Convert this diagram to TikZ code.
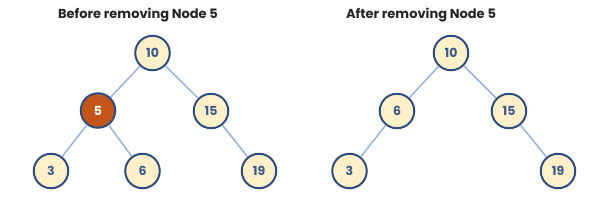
\documentclass[tikz,border=0pt]{standalone}
\usepackage{fontspec}
\setmainfont{Poppins}
\definecolor{nodefill}{HTML}{FFF0C9}
\definecolor{nodeline}{HTML}{2F4C80}
\definecolor{nodetext}{HTML}{3A5A8C}
\definecolor{edgecol}{HTML}{9AB3DE}
\definecolor{redfill}{HTML}{C4561A}
\begin{document}
\begin{tikzpicture}[x=1pt,y=-1pt,
  tnode/.style={circle,draw=nodeline,line width=2pt,fill=nodefill,minimum size=34.5pt,inner sep=0pt,font=\fontsize{12.5}{14}\selectfont\bfseries,text=nodetext},
  hnode/.style={tnode,fill=redfill,text=white},
  edge/.style={draw=edgecol,line width=1.5pt},
  title/.style={font=\fontsize{13}{15}\selectfont\bfseries,text=black!85}]
\useasboundingbox (0,0) rectangle (590,202);
\node[title] (t1) at (138,15) {Before removing Node 5};
\node[title] (t2) at (421,15) {After removing Node 5};
% left tree
\node[tnode] (a10) at (152.5,53) {10};
\node[hnode] (a5) at (98,110.5) {5};
\node[tnode] (a15) at (211,111) {15};
\node[tnode] (a3) at (51,171) {3};
\node[tnode] (a6) at (142.5,171) {6};
\node[tnode] (a19) at (259,171) {19};
% right tree
\node[tnode] (b10) at (451,53) {10};
\node[tnode] (b6) at (397,111) {6};
\node[tnode] (b15) at (509,111) {15};
\node[tnode] (b3) at (349.5,171) {3};
\node[tnode] (b19) at (558,171) {19};
\draw[edge] (a10) -- (a5);
\draw[edge] (a10) -- (a15);
\draw[edge] (a5) -- (a3);
\draw[edge] (a5) -- (a6);
\draw[edge] (a15) -- (a19);
\draw[edge] (b10) -- (b6);
\draw[edge] (b10) -- (b15);
\draw[edge] (b6) -- (b3);
\draw[edge] (b15) -- (b19);
\end{tikzpicture}
\end{document}
